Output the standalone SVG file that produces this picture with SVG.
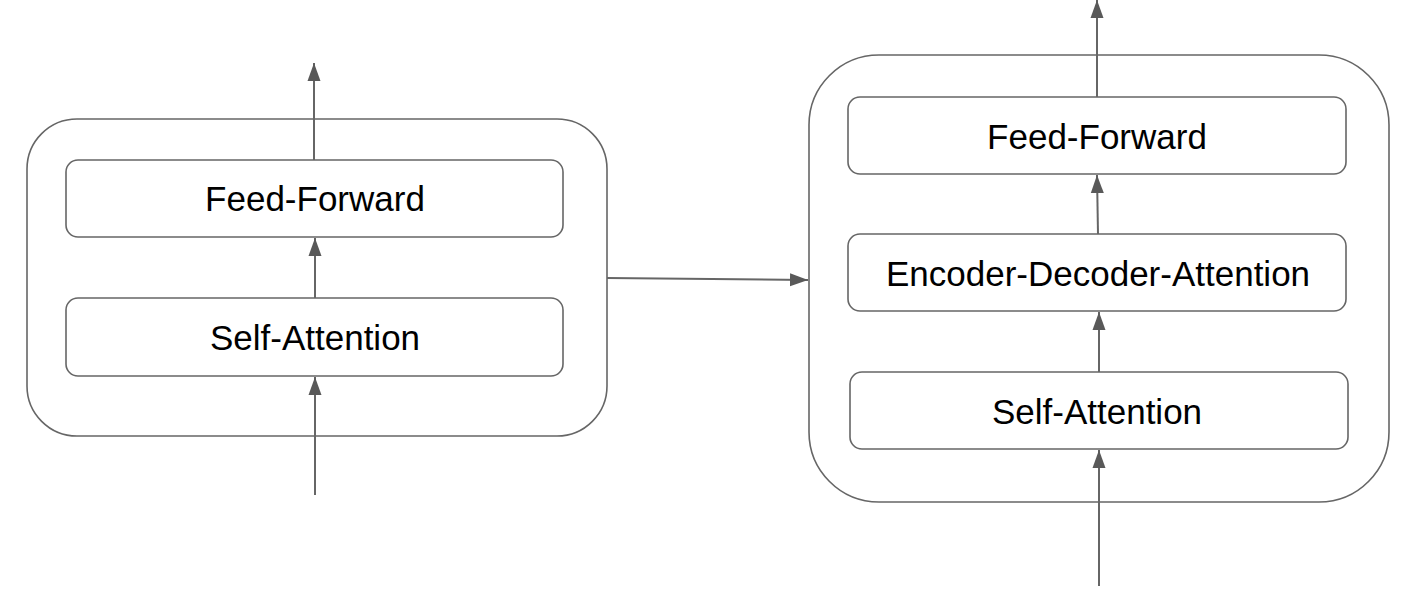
<svg xmlns="http://www.w3.org/2000/svg" width="1415" height="611" viewBox="0 0 1415 611">
<style>
.outer{fill:#fff;stroke:#666;stroke-width:1.6}
.inner{fill:#fff;stroke:#666;stroke-width:1.6}
.lbl{font-family:"Liberation Sans",Arial,sans-serif;font-size:35px;fill:#000;text-anchor:middle}
.conn{stroke:#666;stroke-width:2;fill:none;marker-end:url(#ah)}
</style>
<defs>
<marker id="ah" markerUnits="userSpaceOnUse" markerWidth="19" markerHeight="14" refX="18" refY="7" orient="auto">
<path d="M0,0.5 L18,7 L0,13.5 z" fill="#595959"/>
</marker>
</defs>
<rect width="1415" height="611" fill="#fff"/>
<g id="encoder">
<rect class="outer" x="27" y="119" width="580" height="317" rx="50" ry="50"/>
</g>
<g id="enc-ff">
<rect class="inner" x="66" y="160" width="497" height="77" rx="12" ry="12"/>
<text class="lbl" x="315" y="211">Feed-Forward</text>
</g>
<g id="enc-sa">
<rect class="inner" x="66" y="298" width="497" height="78" rx="12" ry="12"/>
<text class="lbl" x="315" y="350">Self-Attention</text>
</g>
<g id="decoder">
<rect class="outer" x="809" y="55" width="580" height="447" rx="70" ry="70"/>
</g>
<g id="dec-ff">
<rect class="inner" x="848" y="97" width="498" height="77" rx="12" ry="12"/>
<text class="lbl" x="1097" y="149">Feed-Forward</text>
</g>
<g id="dec-eda">
<rect class="inner" x="848" y="234" width="498" height="77" rx="12" ry="12"/>
<text class="lbl" x="1098" y="286">Encoder-Decoder-Attention</text>
</g>
<g id="dec-sa">
<rect class="inner" x="850" y="372" width="498" height="77" rx="12" ry="12"/>
<text class="lbl" x="1097" y="424">Self-Attention</text>
</g>
<g id="connectors">
<line class="conn" x1="315" y1="495" x2="315" y2="377"/>
<line class="conn" x1="315" y1="298" x2="315" y2="238"/>
<line class="conn" x1="314" y1="160" x2="314" y2="63"/>
<line class="conn" x1="607" y1="278" x2="808" y2="280"/>
<line class="conn" x1="1099" y1="586" x2="1099" y2="450"/>
<line class="conn" x1="1099" y1="372" x2="1099" y2="312"/>
<line class="conn" x1="1098" y1="234" x2="1097" y2="175"/>
<line class="conn" x1="1097" y1="97" x2="1097" y2="0"/>
</g>
</svg>
